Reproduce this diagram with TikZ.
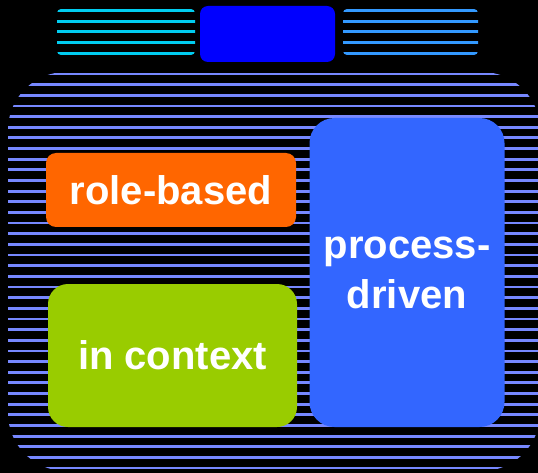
\documentclass[tikz,border=0pt]{standalone}
\usepackage{fontspec}
\setmainfont{Liberation Sans}
\definecolor{stripeblue}{RGB}{119,136,255}
\definecolor{topcyan}{RGB}{0,204,240}
\definecolor{topblue}{RGB}{51,153,255}
\definecolor{headblue}{RGB}{0,0,255}
\definecolor{roleorange}{RGB}{255,102,0}
\definecolor{contextgreen}{RGB}{153,204,0}
\definecolor{processblue}{RGB}{51,102,255}
\begin{document}
\begin{tikzpicture}[x=1pt,y=-1pt,
  box/.style={rounded corners=#1,inner sep=0pt,text=white,align=center,
    font=\bfseries\fontsize{40}{50}\selectfont},
  stripe/.style={line width=2.8pt}]
\fill[black] (0,0) rectangle (538,473);
\useasboundingbox (0,0) rectangle (538,473);
% striped body
\begin{scope}
\clip[rounded corners=58] (8,72) rectangle (540,471);
\foreach \i in {0,...,37} \draw[stripe,stripeblue] (0,74+10.65*\i) -- (538,74+10.65*\i);
\end{scope}
% striped top blocks
\begin{scope}
\clip[rounded corners=4] (57,9) rectangle (195,55);
\foreach \i in {0,...,4} \draw[stripe,topcyan] (50,10.5+10.7*\i) -- (200,10.5+10.7*\i);
\end{scope}
\begin{scope}
\clip[rounded corners=4] (343,9) rectangle (478,55);
\foreach \i in {0,...,4} \draw[stripe,topblue] (340,10.5+10.7*\i) -- (480,10.5+10.7*\i);
\end{scope}
\node[box=8pt,fill=headblue,minimum width=135pt,minimum height=56pt] (header) at (267.5,34) {};
\node[box=10pt,fill=roleorange,minimum width=250pt,minimum height=74pt] (rolebased) at (171,190) {role-based};
\node[box=20pt,fill=contextgreen,minimum width=249pt,minimum height=143pt] (incontext) at (172.5,355.5) {in context};
\node[box=25pt,fill=processblue,minimum width=195pt,minimum height=309pt] (processdriven) at (407,272.5) {process-\\driven};
\end{tikzpicture}
\end{document}
